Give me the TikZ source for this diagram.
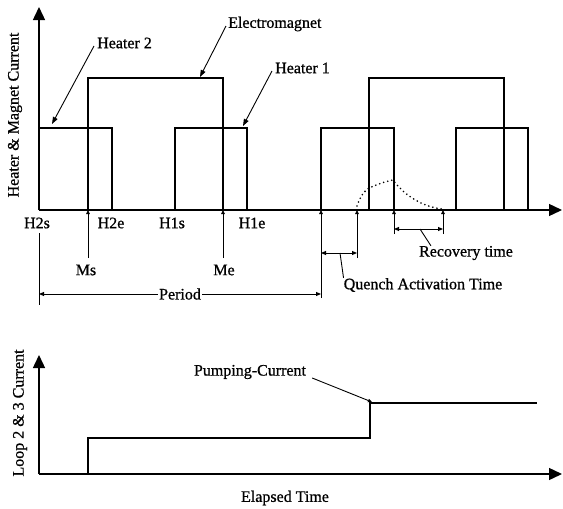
\documentclass[tikz,border=0pt]{standalone}
\usepackage{fontspec}
\setmainfont{Liberation Serif}[UprightFeatures={FakeBold=0.8}]
\usetikzlibrary{arrows.meta}
\begin{document}
\begin{tikzpicture}[x=1pt,y=-1pt,
  lbl/.style={font=\fontsize{16}{19}\selectfont, inner sep=0pt},
  sig/.style={line width=1.9pt, line join=miter},
  axis/.style={line width=1.4pt, -{Triangle[length=13pt,width=12pt]}},
  tickarrow/.style={line width=0.9pt, -{Triangle[length=4pt,width=3.5pt]}},
  dimline/.style={line width=0.9pt, {Triangle[length=5pt,width=4pt]}-{Triangle[length=5pt,width=4pt]}},
  lead/.style={line width=0.9pt},
  leadarrow/.style={line width=0.9pt,-{Triangle[length=7pt,width=5pt]}},
  quench/.style={line width=1.8pt, line cap=round, dash pattern=on 0pt off 4.2pt}]
\useasboundingbox (0,0) rectangle (563,509);
% ---------- top chart ----------
\coordinate (O1) at (39,210);
\coordinate (Y1) at (39,7);
\coordinate (X1) at (562,210);
\draw[axis] (O1) -- (Y1);
\draw[axis] (O1) -- (X1);
% signals
\draw[sig] (39,128) -- (112,128) -- (112,210);
\draw[sig] (88,210) -- (88,78) -- (223,78) -- (223,210);
\draw[sig] (175,210) -- (175,128) -- (247,128) -- (247,210);
\draw[sig] (321,210) -- (321,128) -- (394,128) -- (394,210);
\draw[sig] (369,210) -- (369,78) -- (504,78) -- (504,210);
\draw[sig] (456,210) -- (456,128) -- (528,128) -- (528,210);
% quench curve
\draw[quench] (357,206) .. controls (360,197) and (364,191) .. (369,188)
  .. controls (378,184) and (387,181) .. (393,180)
  .. controls (402,192) and (418,206) .. (442,209);
% ticks
\coordinate (Ms) at (88,210);   \coordinate (Msb) at (88,258);
\coordinate (Me) at (223,210);  \coordinate (Meb) at (223,258);
\coordinate (Pe) at (321,210);  \coordinate (Peb) at (321,298);
\coordinate (Qe) at (357,210);  \coordinate (Qeb) at (357,258);
\coordinate (Rs) at (394,210);  \coordinate (Rsb) at (394,234);
\coordinate (Re) at (443,210);  \coordinate (Reb) at (443,234);
\draw[tickarrow] (Msb) -- (Ms);
\draw[tickarrow] (Meb) -- (Me);
\draw[tickarrow] (Peb) -- (Pe);
\draw[tickarrow] (Qeb) -- (Qe);
\draw[tickarrow] (Rsb) -- (Rs);
\draw[tickarrow] (Reb) -- (Re);
\coordinate (Pst) at (39,233); \coordinate (Psb) at (39,305);
\draw[lead] (Pst) -- (Psb);
% dimensions
\coordinate (PL) at (39,294); \coordinate (PR) at (321,294);
\draw[dimline] (PL) -- (PR);
\node[lbl, fill=white, inner xsep=1pt] (period) at (180,294) {Period};
\coordinate (QL) at (321,253); \coordinate (QR) at (357,253);
\draw[dimline] (QL) -- (QR);
\coordinate (RL) at (394,229); \coordinate (RR) at (443,229);
\draw[dimline] (RL) -- (RR);
% axis labels
\node[lbl] (h2s) at (37,223) {H2s};
\node[lbl] (h2e) at (111,223) {H2e};
\node[lbl] (h1s) at (172,223) {H1s};
\node[lbl] (h1e) at (252,223) {H1e};
\node[lbl] (ms) at (86,270) {Ms};
\node[lbl] (me) at (224,270) {Me};
\node[lbl] (qat) at (423,285) {Quench Activation Time};
\node[lbl] (rt) at (466,253) {Recovery time};
\coordinate (qa) at (340,253);
\draw[lead] (qa) -- (qat.north west);
\coordinate (ra) at (420,229);
\draw[lead] (ra) -- ([xshift=12pt]rt.north west);
% top labels
\node[lbl, anchor=west] (h2) at (97,43) {Heater 2};
\node[lbl, anchor=west] (em) at (228,24) {Electromagnet};
\node[lbl, anchor=west] (h1) at (275,68) {Heater 1};
\coordinate (h2t) at (52,124);
\coordinate (emt) at (200,77);
\coordinate (h1t) at (243,126);
\draw[leadarrow] ([xshift=-3pt,yshift=-3pt]h2.west) -- (h2t);
\draw[leadarrow] ([xshift=-2pt,yshift=-2pt]em.west) -- (emt);
\draw[leadarrow] ([xshift=-3pt,yshift=-3pt]h1.west) -- (h1t);
\node[lbl, rotate=90] (ylab1) at (15,115) {Heater \& Magnet Current};
% ---------- bottom chart ----------
\coordinate (O2) at (39,474);
\coordinate (Y2) at (39,355);
\coordinate (X2) at (562,474);
\draw[axis] (O2) -- (Y2);
\draw[axis] (O2) -- (X2);
\draw[sig] (88,474) -- (88,438) -- (370,438) -- (370,403) -- (537,403);
\node[lbl] (pc) at (250,372) {Pumping-Current};
\coordinate (pct) at (372,402);
\draw[line width=0.9pt,-{Triangle[length=4pt,width=3.5pt]}] ([xshift=6pt,yshift=-6pt]pc.east) -- (pct);
\node[lbl] (et) at (285,498) {Elapsed Time};
\node[lbl, rotate=90] (ylab2) at (20,413) {Loop 2 \& 3 Current};
\end{tikzpicture}
\end{document}
